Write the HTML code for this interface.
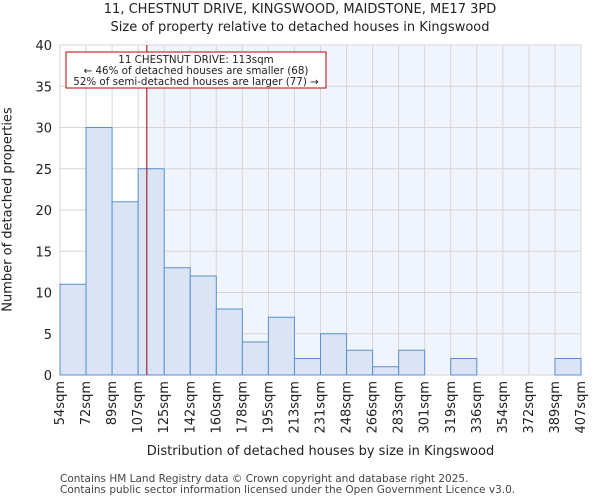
<!DOCTYPE html>
<html><head><meta charset="utf-8"><style>
body{margin:0;background:#fff;font-family:"DejaVu Sans","Liberation Sans",sans-serif}
svg text{font-family:"DejaVu Sans","Liberation Sans",sans-serif;fill:#222}
</style></head><body>
<svg id="c" width="600" height="500"></svg>
<script>
const binLabels=["54sqm","72sqm","89sqm","107sqm","125sqm","142sqm","160sqm","178sqm","195sqm","213sqm","231sqm","248sqm","266sqm","283sqm","301sqm","319sqm","336sqm","354sqm","372sqm","389sqm","407sqm"];
const binEdges=[54,72,89,107,125,142,160,178,195,213,231,248,266,283,301,319,336,354,372,389,407];
const counts=[11,30,21,25,13,12,8,4,7,2,5,3,1,3,0,2,0,0,0,2];
const yTicks=[0,5,10,15,20,25,30,35,40];
const subjectSize=113;
const NS="http://www.w3.org/2000/svg";
const svg=document.getElementById('c');
const L=60,R=581,T=45,B=375,yMax=40;
const nb=counts.length,bw=(R-L)/nb;
const xi=i=>L+i*bw;
const y=v=>B-(v/yMax)*(B-T);
function sx(v){for(let i=0;i<binEdges.length-1;i++){if(v<=binEdges[i+1])return xi(i)+(v-binEdges[i])/(binEdges[i+1]-binEdges[i])*bw;}return R;}
function mk(t,a,p){const e=document.createElementNS(NS,t);for(const k in a)e.setAttribute(k,a[k]);(p||svg).appendChild(e);return e;}
const mx=sx(subjectSize);
let e=mk('rect',{x:L,y:T,width:R-L,height:B-T,fill:'#fff'});

e=mk('rect',{x:mx,y:T,width:R-mx,height:B-T,fill:'#f0f4fc'});

for(let i=0;i<=nb;i++){e=mk('line',{x1:xi(i),x2:xi(i),y1:T,y2:B,stroke:'#d6d6d6','stroke-width':1});
}
yTicks.forEach(v=>{e=mk('line',{x1:L,x2:R,y1:y(v),y2:y(v),stroke:'#d6d6d6','stroke-width':1});

e=mk('text',{x:L-8,y:y(v)+5,'text-anchor':'end','font-size':13});e.textContent=v;
});
counts.forEach((c,i)=>{if(c<=0)return;e=mk('rect',{x:xi(i),y:y(c),width:bw,height:B-y(c),fill:'#dae4f4',stroke:'#5b8fd4','stroke-width':1});
});
binLabels.forEach((l,i)=>{const x=xi(i)+4;e=mk('text',{x:x,y:381,'text-anchor':'end','font-size':13,transform:`rotate(-90 ${x} 381)`});e.textContent=l;
});
e=mk('line',{x1:mx,x2:mx,y1:T,y2:B,stroke:'#a00000','stroke-width':1});

const g=mk('g',{});
mk('rect',{x:66,y:52,width:260,height:36,fill:'#fff',stroke:'#c00000','stroke-width':1},g);
[["11 CHESTNUT DRIVE: 113sqm",63],["← 46% of detached houses are smaller (68)",74],["52% of semi-detached houses are larger (77) →",85]].forEach(t=>{
const tx=mk('text',{x:196,y:t[1],'text-anchor':'middle','font-size':10.3},g);tx.textContent=t[0];});
</script>
<div style="position:absolute;left:0;top:0;width:600px">
<div style="position:absolute;top:1px;width:600px;text-align:center;font-size:13px;line-height:18px;color:#222">11, CHESTNUT DRIVE, KINGSWOOD, MAIDSTONE, ME17 3PD<br>Size of property relative to detached houses in Kingswood</div>
<div style="position:absolute;top:444px;left:60px;width:521px;text-align:center;font-size:13px;color:#222">Distribution of detached houses by size in Kingswood</div>
<div style="position:absolute;left:-142px;top:202px;width:300px;text-align:center;font-size:13px;color:#222;white-space:nowrap;transform:rotate(-90deg)">Number of detached properties</div>
<div style="position:absolute;left:60px;top:474px;font-size:10.5px;line-height:11px;color:#444">Contains HM Land Registry data © Crown copyright and database right 2025.<br>Contains public sector information licensed under the Open Government Licence v3.0.</div>
</div>
</body></html>
